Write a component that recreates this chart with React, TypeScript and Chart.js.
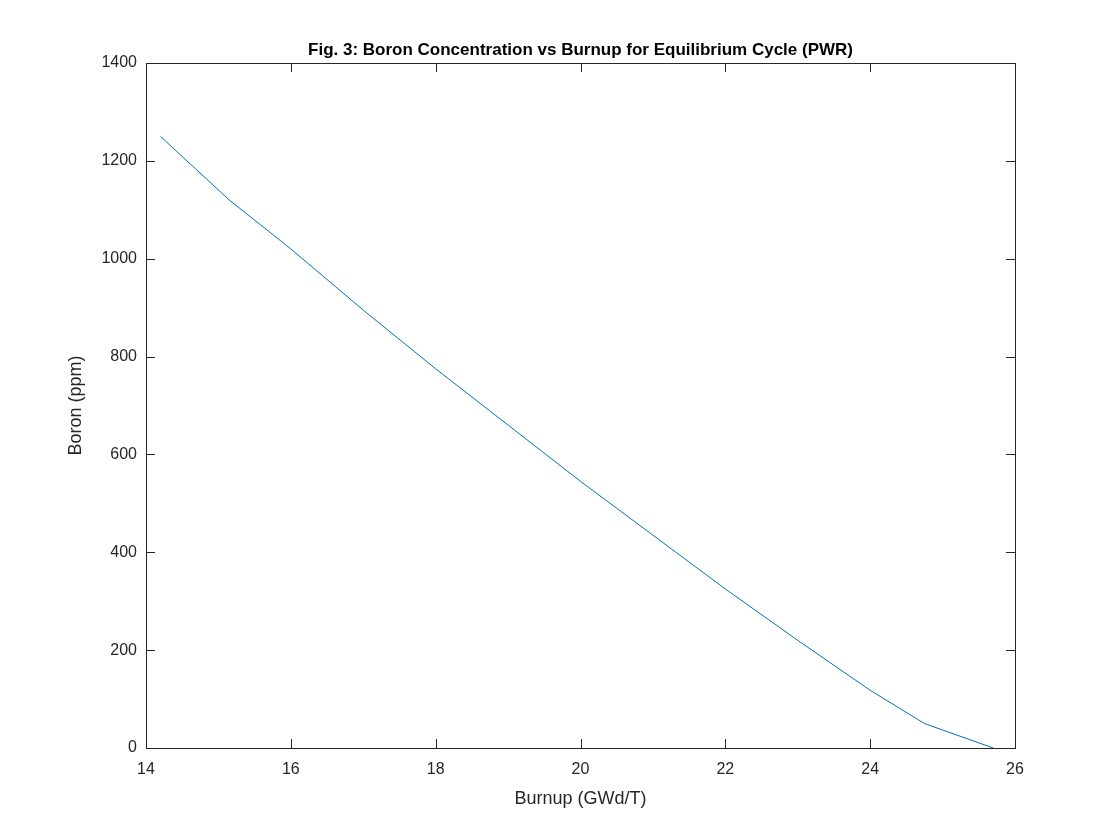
import { useEffect, useRef } from 'react'
import { Chart, registerables } from 'chart.js'

Chart.register(...registerables)

const burnup = [14.2, 15.15, 16, 17, 18, 19, 20, 21, 22, 23, 24, 24.75, 25.7]
const boron = [1250, 1120, 1020, 895, 775, 660, 545, 435, 325, 220, 118, 50, 0]
const xTicks = [14, 16, 18, 20, 22, 24, 26]
const yTicks = [0, 200, 400, 600, 800, 1000, 1200, 1400]

const FONT = "'Liberation Sans', Arial, sans-serif"
const TITLE = 'Fig. 3: Boron Concentration vs Burnup for Equilibrium Cycle (PWR)'

const boxPlugin = {
  id: 'box',
  afterDraw(chart: any) {
    const { ctx, chartArea: a, scales } = chart
    ctx.save()
    ctx.strokeStyle = '#262626'
    ctx.lineWidth = 1
    ctx.strokeRect(a.left + 0.5, a.top + 0.5, a.right - a.left, a.bottom - a.top)
    ctx.beginPath()
    xTicks.forEach(v => {
      const x = Math.round(scales.x.getPixelForValue(v)) + 0.5
      ctx.moveTo(x, a.bottom); ctx.lineTo(x, a.bottom - 9)
      ctx.moveTo(x, a.top); ctx.lineTo(x, a.top + 9)
    })
    yTicks.forEach(v => {
      const y = Math.round(scales.y.getPixelForValue(v)) + 0.5
      ctx.moveTo(a.left, y); ctx.lineTo(a.left + 9, y)
      ctx.moveTo(a.right, y); ctx.lineTo(a.right - 9, y)
    })
    ctx.stroke()
    const cx = (a.left + a.right) / 2
    const cy = (a.top + a.bottom) / 2
    ctx.fillStyle = '#000'
    ctx.textAlign = 'center'
    ctx.textBaseline = 'middle'
    ctx.font = `bold 17px ${FONT}`
    ctx.fillText(TITLE, cx, 50)
    ctx.fillStyle = '#262626'
    ctx.font = `18px ${FONT}`
    ctx.fillText('Burnup (GWd/T)', cx, 799)
    ctx.translate(76, cy)
    ctx.rotate(-Math.PI / 2)
    ctx.fillText('Boron (ppm)', 0, 0)
    ctx.restore()
  },
}

export default function App() {
  const canvasRef = useRef<HTMLCanvasElement | null>(null)

  useEffect(() => {
    document.body.style.margin = '0'
    if (!canvasRef.current) return
    const chart = new Chart(canvasRef.current, {
      type: 'scatter',
      data: {
        datasets: [{
          data: burnup.map((x, i) => ({ x, y: boron[i] })),
          showLine: true,
          borderColor: '#0072BD',
          borderWidth: 1,
          pointRadius: 0,
        }],
      },
      options: {
        responsive: false,
        animation: false,
        layout: { padding: { left: 0, right: 105, top: 63, bottom: 0 } },
        plugins: {
          legend: { display: false },
          tooltip: { enabled: false },
          title: { display: false },
        },
        scales: {
          x: {
            type: 'linear', min: 14, max: 26,
            afterBuildTicks: (s: any) => { s.ticks = xTicks.map(v => ({ value: v })) },
            afterFit: (s: any) => { s.height = 92 },
            grid: { display: false, drawTicks: false },
            border: { display: false },
            ticks: { color: '#262626', font: { family: FONT, size: 16 }, padding: 12, callback: (v: any) => String(v) },
          },
          y: {
            type: 'linear', min: 0, max: 1400,
            afterBuildTicks: (s: any) => { s.ticks = yTicks.map(v => ({ value: v })) },
            afterFit: (s: any) => { s.width = 146 },
            grid: { display: false, drawTicks: false },
            border: { display: false },
            ticks: { color: '#262626', font: { family: FONT, size: 16 }, padding: 9, callback: (v: any) => String(v) },
          },
        },
      },
      plugins: [boxPlugin],
    })
    return () => chart.destroy()
  }, [])

  return (
    <div style={{ width: 1120, height: 840, background: '#fff' }}>
      <canvas ref={canvasRef} width={1120} height={840} />
    </div>
  )
}
